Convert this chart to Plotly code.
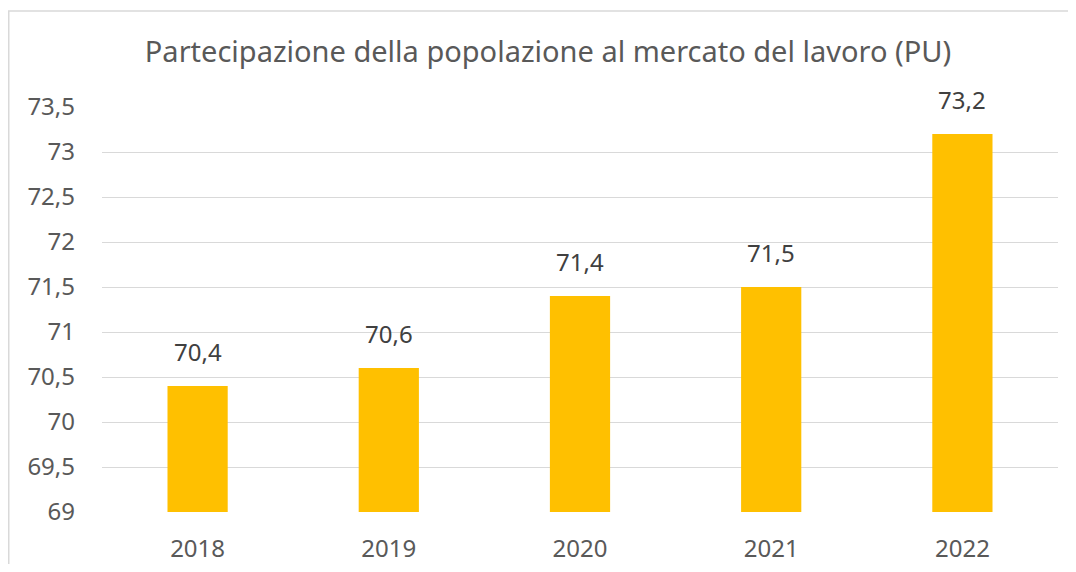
import plotly.graph_objects as go

years = ["2018", "2019", "2020", "2021", "2022"]
values = [70.4, 70.6, 71.4, 71.5, 73.2]
title_text = "Partecipazione della popolazione al mercato del lavoro (PU)"

FONT = "Noto Sans"
W, H = 1060, 556
fig = go.Figure()
fig.add_trace(go.Bar(
    x=years, y=values, marker_color="#FFC000", marker_line_width=0,
    width=0.315, hoverinfo="skip",
))
for i, yv in enumerate(values):
    fig.add_annotation(
        x=i, y=yv, text=f"{yv:.1f}".replace(".", ","), showarrow=False,
        yanchor="bottom", yshift=16,
        font=dict(family=FONT, size=24, color="#404040"),
    )

fig.update_layout(
    width=W, height=H,
    margin=dict(l=94, r=10, t=99, b=52, autoexpand=False),
    paper_bgcolor="white", plot_bgcolor="white",
    separators=",.",
    showlegend=False,
    title=dict(
        text=title_text, x=540 / W, xref="container", xanchor="center",
        y=1 - 44 / H, yref="container", yanchor="middle",
        font=dict(family=FONT, size=29, color="#595959"),
    ),
    xaxis=dict(
        type="category", range=[-0.5, len(years) - 0.5], automargin=False,
        showgrid=False, showline=False, ticks="",
        tickfont=dict(family=FONT, size=24, color="#595959"),
        ticklabelstandoff=20,
    ),
    yaxis=dict(
        range=[69, 73.5], dtick=0.5, tick0=69, automargin=False,
        showgrid=True, gridcolor="#d9d9d9", gridwidth=1,
        zeroline=False, showline=False, ticks="",
        tickfont=dict(family=FONT, size=24, color="#595959"),
        ticklabelstandoff=26,
    ),
    shapes=[dict(
        type="rect", xref="paper", yref="paper",
        x0=(0.75 - 94) / 956, x1=1.05, y0=-0.2, y1=1 + (99 - 3) / 405,
        line=dict(color="#d9d9d9", width=1.5), layer="below",
    )],
)
fig.write_html("out.html")
